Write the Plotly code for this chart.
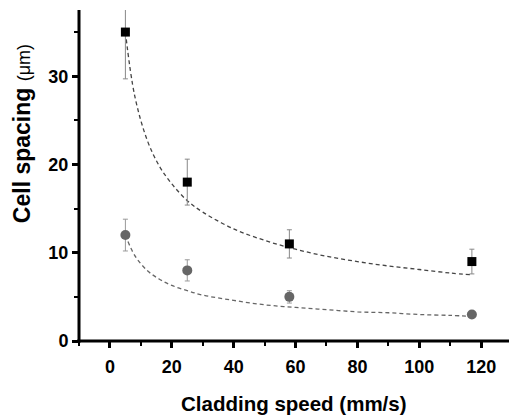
import plotly.graph_objects as go

# Measured data
speed = [5, 25, 58, 117]
sq_y = [35, 18, 11, 9]
sq_err = [5.3, 2.6, 1.6, 1.4]
ci_y = [12, 8, 5, 3]
ci_err = [1.8, 1.2, 0.7, 0]

# Fit curves
fit_x = [5, 8, 12, 16, 20, 25, 30, 40, 50, 60, 70, 80, 90, 100, 110, 117]
fit_sq = [35, 27.8, 22.8, 19.8, 17.8, 15.9, 14.6, 12.7, 11.4, 10.4, 9.6, 9.0, 8.5, 8.1, 7.7, 7.5]
fit_ci = [12, 9.7, 8.0, 7.0, 6.3, 5.7, 5.2, 4.6, 4.1, 3.8, 3.55, 3.3, 3.2, 3.0, 2.9, 2.8]

x_ticks = [0, 20, 40, 60, 80, 100, 120]
y_ticks = [0, 10, 20, 30]

FONT = "Arial, Liberation Sans, sans-serif"

fig = go.Figure()
fig.add_trace(go.Scatter(x=fit_x, y=fit_sq, mode="lines", line=dict(color="#444", width=1.3, dash="4px,3px", shape="spline")))
fig.add_trace(go.Scatter(x=fit_x, y=fit_ci, mode="lines", line=dict(color="#666", width=1.3, dash="4px,3px", shape="spline")))
fig.add_trace(go.Scatter(x=speed, y=sq_y, mode="markers",
                         marker=dict(symbol="square", size=9, color="black"),
                         error_y=dict(type="data", array=sq_err, color="#888", thickness=1, width=2.5)))
fig.add_trace(go.Scatter(x=speed, y=ci_y, mode="markers",
                         marker=dict(symbol="circle", size=10, color="#666"),
                         error_y=dict(type="data", array=ci_err, color="#999", thickness=1, width=2.5)))

axis_common = dict(showgrid=False, zeroline=False, showline=False,
                   ticks="outside", ticklen=6, tickwidth=3, tickcolor="black",
                   tickfont=dict(family=FONT, size=18, color="black", weight="bold"))

fig.update_xaxes(range=[-10, 129], tickvals=x_ticks, ticktext=[str(v) for v in x_ticks],
                 minor=dict(ticks="outside", ticklen=4, tickwidth=2, dtick=10, tick0=0, tickcolor="black"),
                 ticklabelstandoff=3, **axis_common)
fig.update_yaxes(range=[0, 37.5], tickvals=y_ticks, ticktext=[str(v) for v in y_ticks],
                 minor=dict(ticks="outside", ticklen=4, tickwidth=2, dtick=5, tick0=0, tickcolor="black"),
                 **axis_common)

# axis lines
fig.add_shape(type="line", xref="paper", yref="paper", x0=0, x1=0, y0=-0.005, y1=1,
              line=dict(color="black", width=3), layer="above")
fig.add_shape(type="line", xref="paper", yref="paper", x0=-0.004, x1=1, y0=0, y1=0,
              line=dict(color="black", width=3), layer="above")

fig.add_annotation(text="Cladding speed (mm/s)", xref="paper", yref="paper", x=0.5, y=0,
                   xanchor="center", yanchor="middle", yshift=-62, showarrow=False,
                   font=dict(family=FONT, size=20.5, color="black", weight="bold"))
fig.add_annotation(text="Cell spacing <span style='font-size:18px;font-weight:normal'>(μm)</span>", xref="paper", yref="paper",
                   x=0, y=0.625, xanchor="center", yanchor="middle", xshift=-57, textangle=-90,
                   showarrow=False, font=dict(family=FONT, size=23, color="black", weight="bold"))

fig.update_layout(width=509, height=418, showlegend=False, plot_bgcolor="white", paper_bgcolor="white",
                  margin=dict(l=79, r=0, t=10, b=77))
fig.write_html("out.html")
